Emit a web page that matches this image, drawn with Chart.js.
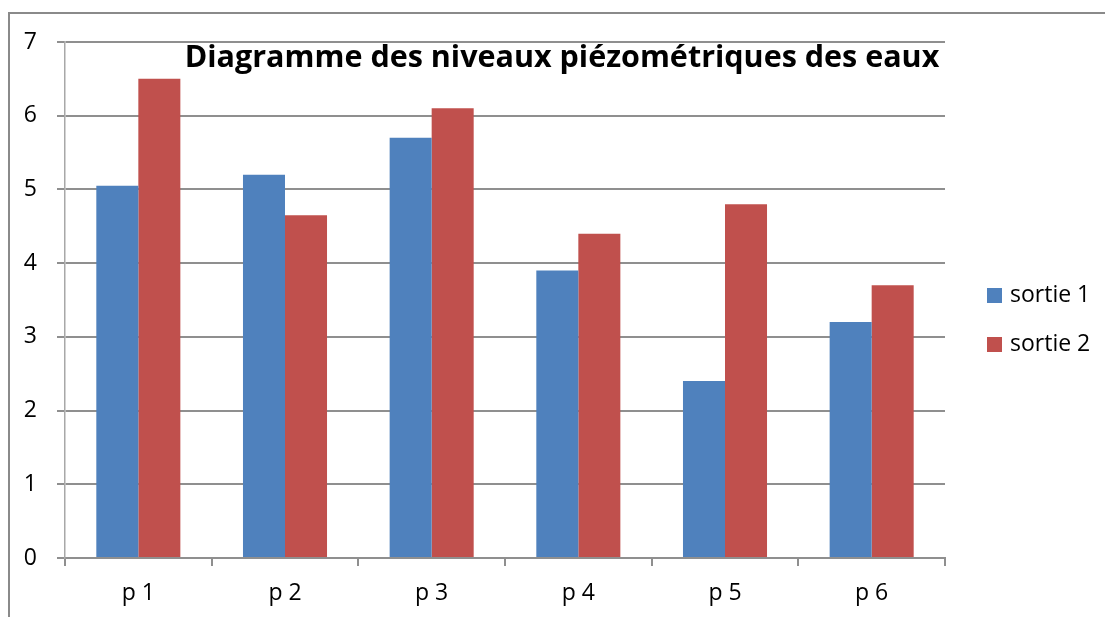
<!DOCTYPE html>
<html>
<head>
<meta charset="utf-8">
<script src="https://cdn.jsdelivr.net/npm/chart.js@4.4.1/dist/chart.umd.min.js"></script>
<style>
  html, body { margin: 0; padding: 0; background: #fff; }
  #wrap { position: relative; width: 1105px; height: 617px; }
</style>
</head>
<body>
<div id="wrap"><canvas id="chart" width="1105" height="617"></canvas></div>
<script>
// piezometric levels
const categories = ['p 1', 'p 2', 'p 3', 'p 4', 'p 5', 'p 6'];
const sortie1 = [5.05, 5.2, 5.7, 3.9, 2.4, 3.2];
const sortie2 = [6.5, 4.65, 6.1, 4.4, 4.8, 3.7];
const seriesNames = ['sortie 1', 'sortie 2'];
const yTicks = [0, 1, 2, 3, 4, 5, 6, 7];

const BLUE = '#4F81BD';
const RED = '#C0504D';
const GRID = '#8f8f8f';
const FONT = '"Open Sans", "Noto Sans", sans-serif';
const TITLE = 'Diagramme des niveaux piézométriques des eaux';

// outer frame (top + left line only) and the title sitting inside the plot
const decor = {
  id: 'decor',
  beforeDraw(chart) {
    const ctx = chart.ctx;
    ctx.save();
    ctx.strokeStyle = '#8a8a8a';
    ctx.lineWidth = 2;
    ctx.beginPath();
    ctx.moveTo(9, 617);
    ctx.lineTo(9, 13);
    ctx.lineTo(1105, 13);
    ctx.stroke();
    ctx.restore();
  },
  afterDraw(chart) {
    const ctx = chart.ctx;
    ctx.save();
    ctx.fillStyle = '#000';
    ctx.font = 'bold 30.5px ' + FONT;
    ctx.textAlign = 'center';
    ctx.textBaseline = 'alphabetic';
    ctx.fillText(TITLE, 562, 67);

    // legend on the right
    ctx.font = '23px ' + FONT;
    ctx.textAlign = 'left';
    ctx.textBaseline = 'middle';
    chart.data.datasets.forEach((ds, i) => {
      const y = 295 + i * 49;
      ctx.fillStyle = ds.backgroundColor;
      ctx.fillRect(987, y - 7, 15, 15);
      ctx.fillStyle = '#000';
      ctx.fillText(ds.label, 1010, y);
    });
    ctx.restore();
  }
};

new Chart(document.getElementById('chart'), {
  type: 'bar',
  data: {
    labels: categories,
    datasets: [
      { label: seriesNames[0], data: sortie1, backgroundColor: BLUE },
      { label: seriesNames[1], data: sortie2, backgroundColor: RED },
    ],
  },
  options: {
    responsive: false,
    animation: false,
    devicePixelRatio: 1,
    layout: { padding: { top: 42, right: 160, bottom: 0, left: 0 } },
    datasets: {
      bar: { categoryPercentage: 0.573, barPercentage: 1.0, borderWidth: 0 }
    },
    plugins: {
      legend: { display: false },
      title: { display: false },
      tooltip: { enabled: false },
    },
    scales: {
      x: {
        offset: true,
        afterFit: (s) => { s.height = 59; },
        grid: {
          offset: true,
          drawOnChartArea: false,
          drawTicks: true,
          tickLength: 8,
          color: GRID,
          lineWidth: 2,
        },
        border: { color: GRID, width: 2 },
        ticks: { color: '#000', font: { family: FONT, size: 23 }, padding: 14 },
      },
      y: {
        min: 0,
        max: 7,
        afterFit: (s) => { s.width = 65; },
        afterBuildTicks: (s) => { s.ticks = yTicks.map(v => ({ value: v })); },
        grid: { color: GRID, lineWidth: 2, tickLength: 8 },
        border: { color: '#a8a8a8', width: 1.5 },
        ticks: { color: '#000', font: { family: FONT, size: 23 }, padding: 20 },
      },
    },
  },
  plugins: [decor],
});
</script>
</body>
</html>
